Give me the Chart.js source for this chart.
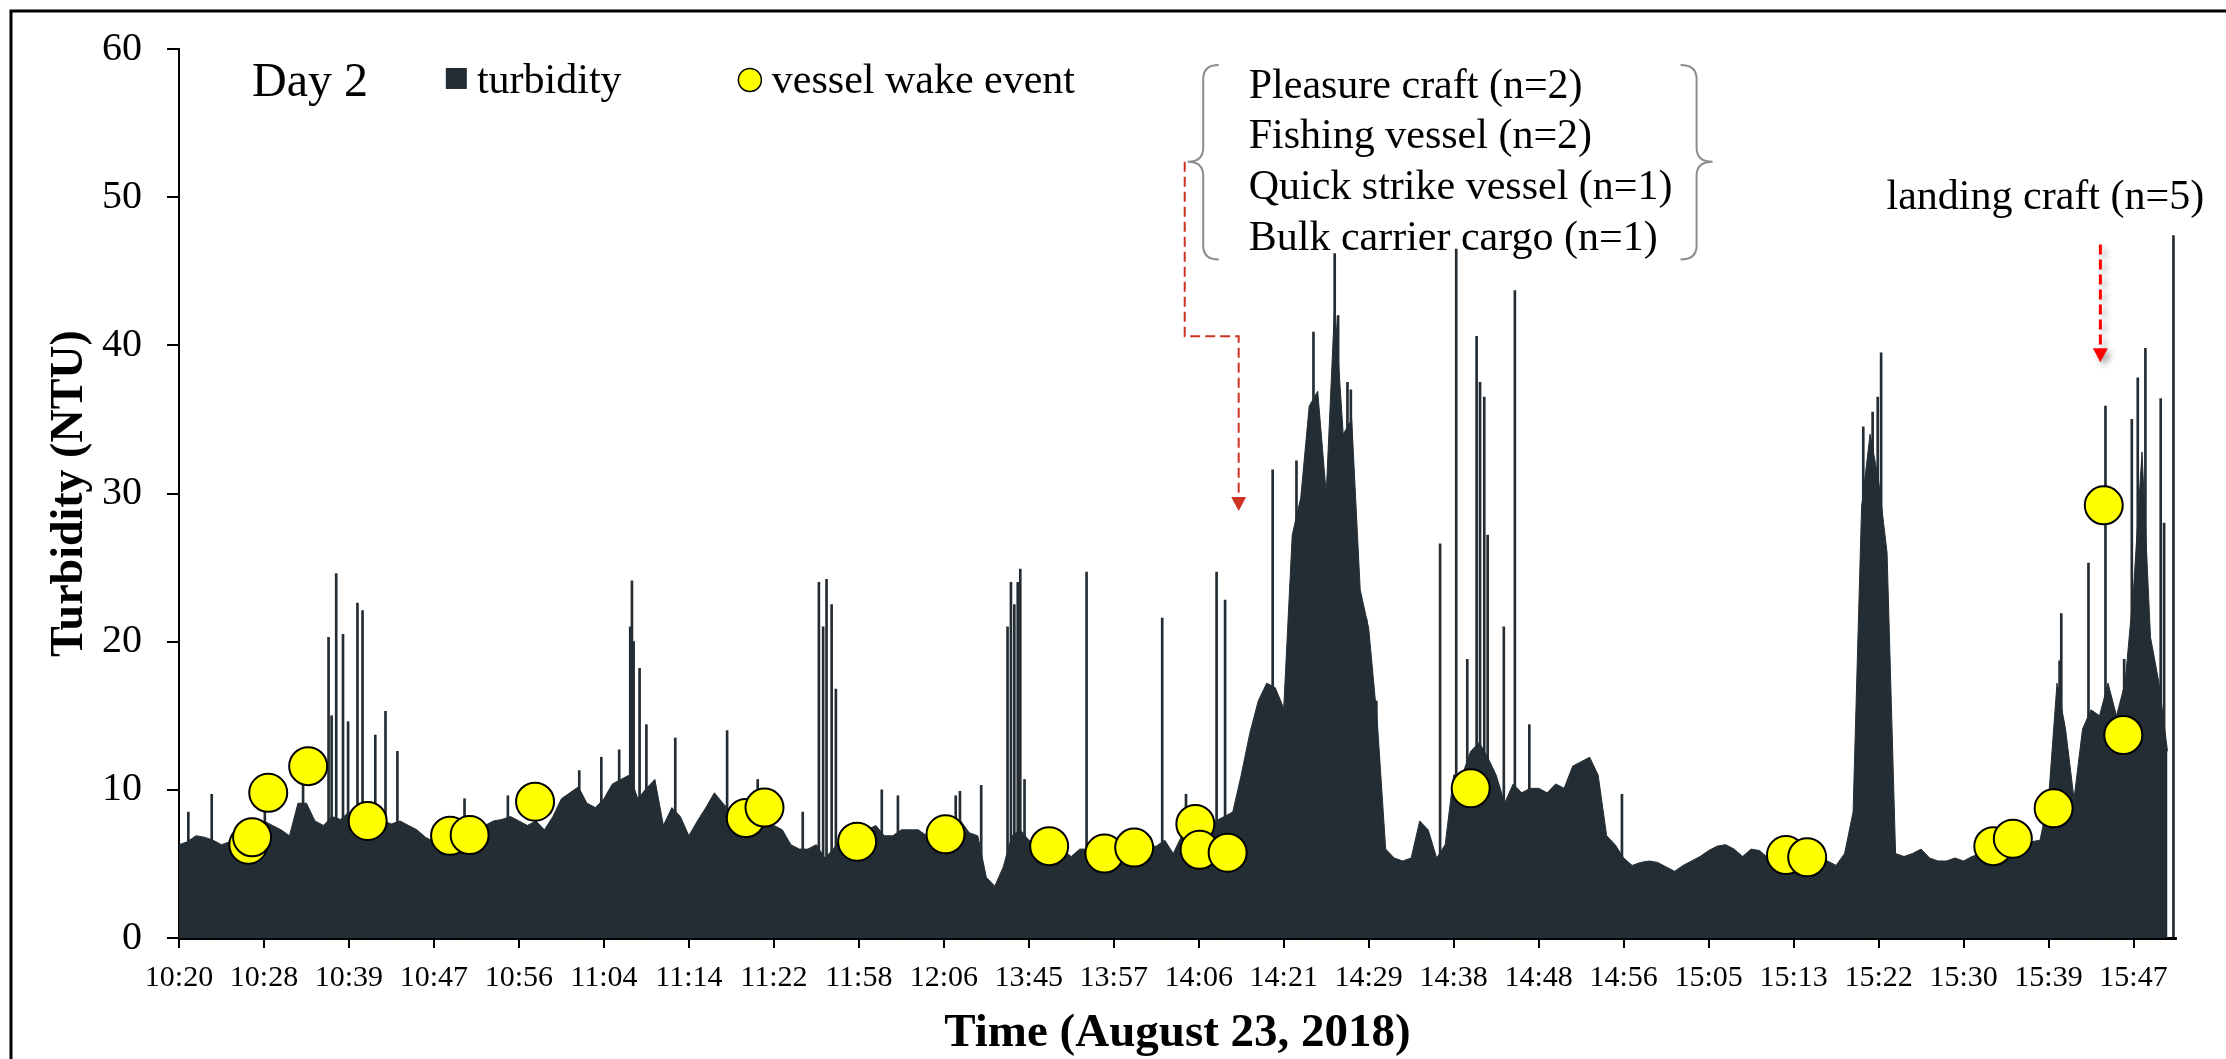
<!DOCTYPE html>
<html>
<head>
<meta charset="utf-8">
<script src="https://cdn.jsdelivr.net/npm/chart.js@4.4.1/dist/chart.umd.min.js"></script>
<style>
  html, body { margin: 0; padding: 0; background: #fff; }
  #wrap { width: 2226px; height: 1059px; }
</style>
</head>
<body>
<div id="wrap"><canvas id="turb" width="2226" height="1059"></canvas></div>
<script>
// Day 2 turbidity record (August 23, 2018)
// x is a sample index: 10 samples between two time labels, the record has gaps
// so the time labels are not evenly spaced in clock time

const timeLabels = ['10:20', '10:28', '10:39', '10:47', '10:56', '11:04', '11:14', '11:22',
  '11:58', '12:06', '13:45', '13:57', '14:06', '14:21', '14:29', '14:38', '14:48', '14:56',
  '15:05', '15:13', '15:22', '15:30', '15:39', '15:47'];
const samplesPerLabel = 10;

// turbidity (NTU), one row per label interval
const turbidity = [
  6.3, 6.5, 6.9, 6.8, 6.6, 6.3, 6.5, 6.6, 6.9, 7.3,         // 10:20
  7.9, 7.6, 7.3, 6.9, 9.1, 9.1, 7.9, 7.6, 8.2, 8.0,         // 10:28
  8.5, 8.0, 7.9, 8.0, 7.9, 7.7, 7.9, 7.6, 7.3, 6.8,         // 10:39
  6.5, 6.8, 6.6, 6.9, 7.3, 6.9, 7.6, 7.9, 8.0, 8.2,         // 10:47
  7.9, 7.6, 7.9, 7.3, 8.2, 9.4, 9.8, 10.2, 9.1, 8.8,        // 10:56
  9.4, 10.4, 10.7, 11.0, 9.4, 10.1, 10.7, 7.6, 8.8, 8.2,    // 11:04
  6.9, 7.9, 8.8, 9.8, 9.1, 8.5, 8.2, 8.2, 8.8, 8.2,         // 11:14
  7.6, 7.3, 6.3, 6.0, 6.0, 6.3, 5.4, 6.0, 6.9, 6.9,         // 11:22
  6.6, 7.3, 7.6, 6.9, 6.9, 7.3, 7.3, 7.3, 6.9, 6.9,         // 11:58
  7.3, 7.6, 7.9, 7.1, 6.9, 4.1, 3.5, 4.8, 6.9, 7.3,         // 12:06
  6.6, 6.5, 6.3, 6.0, 5.9, 5.5, 6.0, 6.0, 5.7, 5.7,         // 13:45
  5.9, 6.0, 6.2, 6.0, 6.2, 6.2, 6.6, 5.7, 6.9, 7.9,         // 13:57
  6.9, 6.9, 7.9, 8.2, 8.5, 11.0, 13.8, 16.0, 17.2, 16.9,    // 14:06
  15.5, 27.2, 29.7, 35.9, 36.9, 30.0, 42.8, 34.0, 35.0, 23.5, // 14:21
  20.9, 14.7, 6.0, 5.4, 5.2, 5.4, 7.9, 7.3, 5.4, 6.3,       // 14:29
  11.0, 11.0, 12.6, 13.2, 12.2, 11.0, 9.1, 10.4, 9.8, 10.1, // 14:38
  10.1, 9.8, 10.4, 10.1, 11.6, 11.9, 12.2, 11.0, 6.9, 6.3,  // 14:48
  5.4, 4.9, 5.1, 5.2, 5.1, 4.8, 4.5, 4.9, 5.2, 5.5,         // 14:56
  5.9, 6.2, 6.3, 6.0, 5.5, 6.0, 5.9, 5.4, 5.4, 5.4,         // 15:05
  5.2, 5.2, 5.2, 5.2, 5.2, 4.9, 5.7, 8.5, 29.1, 34.0,       // 15:13
  30.9, 26.0, 5.7, 5.5, 5.7, 6.0, 5.4, 5.2, 5.2, 5.4,       // 15:22
  5.2, 5.5, 5.7, 5.7, 5.9, 6.0, 6.2, 6.3, 6.5, 6.6,         // 15:30
  9.4, 17.2, 14.1, 9.4, 14.1, 15.4, 15.0, 17.2, 15.0, 17.2, // 15:39
  23.5, 32.8, 20.3, 17.2, 12.6                              // 15:47
];

// short spikes between samples (sample index, NTU)
const spikeAt = [1.1, 3.85, 10.1, 14.6, 17.6, 17.96, 18.5, 19.3, 19.9, 21.0, 21.6, 23.1, 24.3, 25.7,
  33.6, 38.7, 47.1, 49.7, 51.8, 53.1, 53.3, 53.5, 54.2, 55.0,
  58.4, 64.5, 68.1, 73.4, 75.3, 75.8, 76.2, 76.8, 77.3, 82.7, 84.6,
  91.4, 91.9, 94.4, 97.5, 97.9, 98.3, 98.7, 99.0, 99.5, 106.8, 115.7,
  118.5, 122.1, 123.1, 128.7, 131.5, 133.5, 136.0, 136.4, 137.5, 137.9, 139.7, 140.9,
  148.4, 150.3, 151.6, 152.7, 153.1, 153.6, 154.0, 155.9, 157.2, 158.9, 169.8,
  198.2, 199.3, 199.9, 200.3,
  221.3, 221.5, 224.7, 226.7, 228.9, 229.8, 230.5, 231.4, 233.2, 233.6, 234.7];
const spikeNtu = [8.5, 9.7, 9.6, 10.4, 20.3, 15.0, 24.6, 20.5, 14.6, 22.6, 22.1, 13.7, 15.3, 12.6,
  9.4, 9.6, 11.3, 12.2, 12.7, 21.0, 24.1, 20.0, 18.2, 14.4,
  13.5, 14.0, 10.7, 8.5, 24.0, 21.0, 24.2, 22.5, 16.8, 10.0, 9.6,
  9.6, 9.9, 10.3, 21.0, 24.0, 22.5, 24.0, 24.9, 10.7, 24.7, 21.6,
  9.7, 24.7, 22.8, 31.6, 32.2, 40.9, 46.2, 42.0, 37.5, 37.0, 21.5, 16.0,
  26.6, 46.5, 18.8, 40.6, 37.5, 36.5, 27.2, 21.0, 43.7, 14.4, 9.7,
  34.5, 35.5, 36.5, 39.5,
  18.7, 21.9, 25.3, 35.9, 18.8, 35.0, 37.8, 39.8, 36.4, 28.0, 47.4];

// vessel wake events (sample index, NTU)
const wakeAt = [8.16, 8.6, 10.5, 15.2, 22.2, 31.9, 34.2, 41.9, 66.7, 68.9, 79.8, 90.2, 102.4,
  108.9, 112.4, 119.6, 120.1, 123.4, 152.0, 189.1, 191.6, 213.5, 215.8, 220.6, 226.5, 228.8];
const wakeNtu = [6.3, 6.8, 9.8, 11.6, 7.9, 6.9, 6.95, 9.2, 8.1, 8.8, 6.5, 7.0, 6.2,
  5.7, 6.1, 7.7, 5.95, 5.76, 10.1, 5.6, 5.45, 6.2, 6.7, 8.75, 29.2, 13.7];

const vesselTypes = ['Pleasure craft (n=2)', 'Fishing vessel (n=2)',
  'Quick strike vessel (n=1)', 'Bulk carrier cargo (n=1)'];

const serif = '"Liberation Serif", "Times New Roman", serif';
const turbColor = '#232d33';
const wakeColor = '#ffff00';

// curly brace, tip pointing to xTip
function brace(ctx, xTip, xHook, yTop, yMid, yBot) {
  const xs = (xTip + xHook) / 2;
  const r = 14;
  ctx.beginPath();
  ctx.moveTo(xHook, yTop);
  ctx.quadraticCurveTo(xs, yTop, xs, yTop + r);
  ctx.lineTo(xs, yMid - r);
  ctx.quadraticCurveTo(xs, yMid, xTip, yMid);
  ctx.quadraticCurveTo(xs, yMid, xs, yMid + r);
  ctx.lineTo(xs, yBot - r);
  ctx.quadraticCurveTo(xs, yBot, xHook, yBot);
  ctx.stroke();
}

function arrowHead(ctx, x, yTip) {
  ctx.beginPath();
  ctx.moveTo(x - 7.5, yTip - 14);
  ctx.lineTo(x + 7.5, yTip - 14);
  ctx.lineTo(x, yTip);
  ctx.closePath();
  ctx.fill();
}

const notes = {
  id: 'notes',
  afterDraw(chart) {
    const ctx = chart.ctx;
    const px = s => chart.scales.x.getPixelForValue(s);
    const py = v => chart.scales.y.getPixelForValue(v);
    ctx.save();

    // figure frame
    ctx.strokeStyle = '#000';
    ctx.lineWidth = 3;
    ctx.beginPath();
    ctx.moveTo(11, chart.height);
    ctx.lineTo(11, 11);
    ctx.lineTo(chart.width, 11);
    ctx.stroke();

    // legend
    ctx.fillStyle = '#000';
    ctx.textBaseline = 'alphabetic';
    ctx.textAlign = 'left';
    ctx.font = '48px ' + serif;
    ctx.fillText('Day 2', px(8.6), py(56.84));
    ctx.font = '42px ' + serif;
    ctx.fillStyle = turbColor;
    ctx.fillRect(px(31.4), py(58.72), 21, 21);
    ctx.fillStyle = '#000';
    ctx.fillText('turbidity', px(35.06), py(57.04));
    ctx.beginPath();
    ctx.arc(px(67.18), py(57.91), 11.5, 0, Math.PI * 2);
    ctx.fillStyle = wakeColor;
    ctx.fill();
    ctx.lineWidth = 1.5;
    ctx.strokeStyle = '#000';
    ctx.stroke();
    ctx.fillStyle = '#000';
    ctx.fillText('vessel wake event', px(69.76), py(57.04));

    // vessel types with braces
    const lineTops = [56.7, 53.33, 49.9, 46.46];
    vesselTypes.forEach((t, i) => ctx.fillText(t, px(125.88), py(lineTops[i])));
    ctx.strokeStyle = '#8c8c8c';
    ctx.lineWidth = 2;
    brace(ctx, px(118.7), px(122.35), py(58.92), py(52.39), py(45.79));
    brace(ctx, px(180.47), px(176.7), py(58.92), py(52.39), py(45.79));
    ctx.fillText('landing craft (n=5)', px(200.94), py(49.23));

    // arrow from the brace
    ctx.strokeStyle = '#cc3322';
    ctx.fillStyle = '#cc3322';
    ctx.lineWidth = 2;
    ctx.setLineDash([10, 5]);
    ctx.beginPath();
    ctx.moveTo(px(118.35), py(52.39));
    ctx.lineTo(px(118.35), py(40.61));
    ctx.lineTo(px(124.7), py(40.61));
    ctx.lineTo(px(124.7), py(28.82) - 14);
    ctx.stroke();
    ctx.setLineDash([]);
    arrowHead(ctx, px(124.7), py(28.82));

    // landing craft arrow
    ctx.shadowColor = 'rgba(0,0,0,0.35)';
    ctx.shadowBlur = 6;
    ctx.shadowOffsetX = 4;
    ctx.shadowOffsetY = 4;
    ctx.strokeStyle = '#ff0000';
    ctx.fillStyle = '#ff0000';
    ctx.lineWidth = 3;
    ctx.setLineDash([10, 5]);
    ctx.beginPath();
    ctx.moveTo(px(226.1), py(46.8));
    ctx.lineTo(px(226.1), py(38.86) - 14);
    ctx.stroke();
    ctx.setLineDash([]);
    arrowHead(ctx, px(226.1), py(38.86));
    ctx.restore();
  }
};

new Chart(document.getElementById('turb'), {
  type: 'line',
  data: {
    datasets: [
      {
        type: 'scatter',
        label: 'vessel wake event',
        data: wakeAt.map((s, i) => ({ x: s, y: wakeNtu[i] })),
        pointRadius: 19,
        pointBackgroundColor: wakeColor,
        pointBorderColor: '#000',
        pointBorderWidth: 2,
        order: 0
      },
      {
        type: 'bar',
        label: 'spikes',
        data: spikeAt.map((s, i) => ({ x: s, y: spikeNtu[i] })),
        backgroundColor: turbColor,
        borderWidth: 0,
        barThickness: 2,
        order: 1
      },
      {
        type: 'line',
        label: 'turbidity',
        data: turbidity.map((v, i) => ({ x: i, y: v })),
        fill: 'origin',
        backgroundColor: turbColor,
        borderColor: turbColor,
        borderWidth: 1,
        pointRadius: 0,
        tension: 0,
        order: 2
      }
    ]
  },
  options: {
    responsive: false,
    animation: false,
    events: [],
    layout: { padding: { top: 47, right: 50, bottom: 0, left: 0 } },
    plugins: { legend: { display: false }, tooltip: { enabled: false } },
    scales: {
      x: {
        type: 'linear',
        min: 0,
        max: 235,
        offset: false,
        afterBuildTicks(scale) {
          scale.ticks = timeLabels.map((t, i) => ({ value: i * samplesPerLabel }));
        },
        ticks: {
          autoSkip: false,
          maxRotation: 0,
          color: '#000',
          padding: 12,
          font: { family: serif, size: 30 },
          callback: v => timeLabels[Math.round(v / samplesPerLabel)]
        },
        grid: { offset: false, drawOnChartArea: false, tickLength: 10, color: '#000', lineWidth: 2 },
        border: { color: '#000', width: 3 },
        title: {
          display: true,
          text: 'Time (August 23, 2018)',
          color: '#000',
          font: { family: serif, size: 47, weight: 'bold' },
          padding: { top: 0, bottom: -3 }
        },
        afterFit(scale) { scale.height = 121; }
      },
      y: {
        min: 0,
        max: 60,
        ticks: { stepSize: 10, color: '#000', padding: 25, font: { family: serif, size: 40 } },
        grid: { drawOnChartArea: false, tickLength: 12, color: '#000', lineWidth: 2 },
        border: { color: '#000', width: 2 },
        title: {
          display: true,
          text: 'Turbidity (NTU)',
          color: '#000',
          font: { family: serif, size: 46, weight: 'bold' },
          padding: { top: 43, bottom: 0 }
        },
        afterFit(scale) { scale.width = 179; }
      }
    }
  },
  plugins: [notes]
});
</script>
</body>
</html>
